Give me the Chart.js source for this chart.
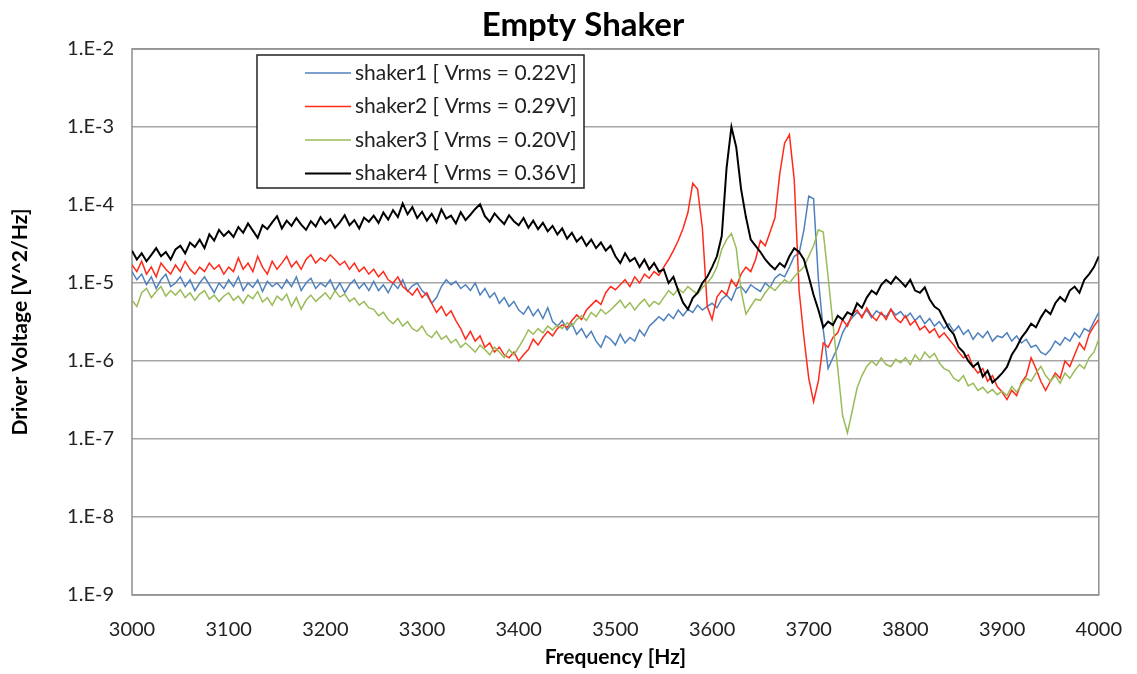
<!DOCTYPE html>
<html>
<head>
<meta charset="utf-8">
<title>Empty Shaker</title>
<script src="https://cdn.jsdelivr.net/npm/chart.js@4.4.1/dist/chart.umd.min.js"></script>
<style>
  html, body { margin: 0; padding: 0; background: #fff; }
  #psd { display: block; }
</style>
</head>
<body>
<canvas id="psd" width="1137" height="674"></canvas>
<script>
// ─── Data: driver voltage PSD, 3000–4000 Hz, one sample every 5 Hz ──────
const START_HZ = 3000;
const STEP_HZ  = 5;
const X_TICKS  = [3000, 3100, 3200, 3300, 3400, 3500, 3600, 3700, 3800, 3900, 4000];
const Y_TICKS  = [1e-9, 1e-8, 1e-7, 1e-6, 1e-5, 1e-4, 1e-3, 1e-2];

const SERIES_NAMES = [
  'shaker1 [ Vrms = 0.22V]',
  'shaker2 [ Vrms = 0.29V]',
  'shaker3 [ Vrms = 0.20V]',
  'shaker4 [ Vrms = 0.36V]'
];

const SHAKER1 = [
  1.4e-5, 1.1e-5, 1.3e-5, 9.5e-6, 1.2e-5, 8.5e-6, 1.1e-5, 1.3e-5, 9.0e-6, 1.0e-5,
  1.2e-5, 9.0e-6, 1.1e-5, 8.0e-6, 1.0e-5, 1.2e-5, 9.5e-6, 7.5e-6, 1.0e-5, 8.5e-6,
  1.1e-5, 9.0e-6, 1.2e-5, 8.0e-6, 1.0e-5, 8.8e-6, 1.1e-5, 7.8e-6, 1.05e-5, 9.0e-6,
  1.0e-5, 8.5e-6, 1.1e-5, 9.0e-6, 1.2e-5, 8.0e-6, 1.0e-5, 1.15e-5, 8.5e-6, 1.0e-5,
  9.0e-6, 1.1e-5, 8.0e-6, 1.0e-5, 7.5e-6, 9.5e-6, 1.1e-5, 8.5e-6, 1.0e-5, 8.0e-6,
  1.05e-5, 8.0e-6, 9.5e-6, 7.5e-6, 1.0e-5, 8.5e-6, 1.1e-5, 7.8e-6, 9.2e-6, 1.0e-5,
  8.0e-6, 7.0e-6, 5.5e-6, 6.5e-6, 9.0e-6, 1.1e-5, 9.5e-6, 1.05e-5, 8.5e-6, 9.5e-6,
  8.0e-6, 1.0e-5, 7.0e-6, 8.5e-6, 6.5e-6, 7.5e-6, 5.5e-6, 6.5e-6, 5.0e-6, 5.8e-6,
  4.5e-6, 4.0e-6, 5.0e-6, 3.8e-6, 4.6e-6, 3.5e-6, 4.8e-6, 3.2e-6, 2.8e-6, 3.3e-6,
  2.5e-6, 3.0e-6, 2.2e-6, 2.6e-6, 2.0e-6, 2.4e-6, 1.8e-6, 1.5e-6, 2.1e-6, 1.9e-6,
  1.6e-6, 2.2e-6, 1.7e-6, 2.0e-6, 1.8e-6, 2.5e-6, 2.1e-6, 2.8e-6, 3.2e-6, 3.7e-6,
  3.3e-6, 4.0e-6, 3.5e-6, 4.5e-6, 3.8e-6, 4.6e-6, 4.2e-6, 5.2e-6, 4.5e-6, 5.0e-6,
  5.5e-6, 4.8e-6, 6.2e-6, 7.0e-6, 6.0e-6, 8.5e-6, 9.0e-6, 7.5e-6, 9.5e-6, 8.5e-6,
  7.8e-6, 1.0e-5, 8.8e-6, 1.15e-5, 1.3e-5, 1.2e-5, 1.6e-5, 2.2e-5, 2.4e-5, 4.8e-5,
  1.3e-4, 1.2e-4, 1.1e-5, 2.5e-6, 8.0e-7, 1.1e-6, 1.5e-6, 2.3e-6, 3.0e-6, 3.6e-6,
  4.2e-6, 3.8e-6, 4.5e-6, 3.6e-6, 4.4e-6, 4.0e-6, 3.7e-6, 4.6e-6, 3.9e-6, 4.3e-6,
  3.6e-6, 4.1e-6, 3.3e-6, 3.8e-6, 3.0e-6, 3.5e-6, 2.8e-6, 3.2e-6, 2.6e-6, 3.0e-6,
  2.4e-6, 2.8e-6, 2.2e-6, 2.5e-6, 1.9e-6, 2.3e-6, 2.0e-6, 2.4e-6, 1.8e-6, 2.1e-6,
  2.0e-6, 2.3e-6, 1.8e-6, 2.1e-6, 1.7e-6, 1.9e-6, 1.5e-6, 1.6e-6, 1.3e-6, 1.2e-6,
  1.4e-6, 1.8e-6, 1.6e-6, 2.0e-6, 1.8e-6, 2.3e-6, 2.0e-6, 2.6e-6, 2.4e-6, 3.2e-6,
  4.2e-6
];

const SHAKER2 = [
  1.7e-5, 1.4e-5, 1.9e-5, 1.3e-5, 1.6e-5, 1.2e-5, 1.8e-5, 1.5e-5, 1.3e-5, 1.7e-5,
  1.4e-5, 1.9e-5, 1.5e-5, 1.3e-5, 1.6e-5, 1.4e-5, 1.8e-5, 1.5e-5, 1.7e-5, 1.3e-5,
  1.6e-5, 1.4e-5, 2.1e-5, 1.5e-5, 1.8e-5, 1.4e-5, 2.2e-5, 1.6e-5, 1.3e-5, 1.9e-5,
  1.5e-5, 1.8e-5, 2.2e-5, 1.6e-5, 1.9e-5, 1.5e-5, 2.0e-5, 2.3e-5, 1.8e-5, 2.1e-5,
  1.9e-5, 2.3e-5, 2.0e-5, 1.7e-5, 1.9e-5, 1.5e-5, 1.8e-5, 1.4e-5, 1.6e-5, 1.3e-5,
  1.5e-5, 1.2e-5, 1.4e-5, 1.1e-5, 1.0e-5, 1.2e-5, 9.0e-6, 8.0e-6, 7.0e-6, 8.5e-6,
  6.5e-6, 7.5e-6, 5.5e-6, 4.2e-6, 5.0e-6, 3.8e-6, 4.4e-6, 3.3e-6, 2.6e-6, 1.9e-6,
  2.4e-6, 1.8e-6, 2.1e-6, 1.5e-6, 1.7e-6, 1.3e-6, 1.5e-6, 1.2e-6, 1.1e-6, 1.3e-6,
  1.0e-6, 1.2e-6, 1.4e-6, 1.9e-6, 1.6e-6, 2.0e-6, 2.4e-6, 2.1e-6, 2.6e-6, 2.9e-6,
  2.7e-6, 3.3e-6, 3.9e-6, 3.4e-6, 4.5e-6, 5.2e-6, 6.0e-6, 5.3e-6, 7.5e-6, 9.0e-6,
  8.2e-6, 9.5e-6, 1.1e-5, 9.0e-6, 1.2e-5, 1.0e-5, 1.3e-5, 1.15e-5, 1.4e-5, 1.25e-5,
  1.6e-5, 2.0e-5, 2.6e-5, 3.5e-5, 5.0e-5, 8.0e-5, 1.9e-4, 1.6e-4, 5.0e-5, 5.0e-6,
  3.4e-6, 6.6e-6, 8.0e-6, 7.0e-6, 1.1e-5, 9.0e-6, 1.3e-5, 1.6e-5, 1.4e-5, 2.0e-5,
  3.5e-5, 3.0e-5, 4.5e-5, 6.8e-5, 2.5e-4, 6.2e-4, 8.0e-4, 2.1e-4, 8.0e-6, 2.0e-6,
  6.0e-7, 3.0e-7, 5.6e-7, 1.7e-6, 1.5e-6, 2.0e-6, 2.3e-6, 3.4e-6, 2.8e-6, 4.0e-6,
  4.5e-6, 3.6e-6, 4.8e-6, 3.8e-6, 3.3e-6, 4.2e-6, 3.4e-6, 4.6e-6, 3.5e-6, 3.1e-6,
  3.8e-6, 2.9e-6, 3.3e-6, 2.5e-6, 2.8e-6, 2.3e-6, 2.6e-6, 2.0e-6, 2.3e-6, 1.9e-6,
  1.6e-6, 1.3e-6, 1.1e-6, 1.2e-6, 8.5e-7, 7.0e-7, 8.0e-7, 5.5e-7, 6.5e-7, 4.7e-7,
  4.0e-7, 3.2e-7, 4.2e-7, 3.6e-7, 5.3e-7, 6.5e-7, 1.1e-6, 8.0e-7, 5.5e-7, 4.2e-7,
  5.5e-7, 7.0e-7, 6.0e-7, 1.0e-6, 8.5e-7, 1.2e-6, 1.7e-6, 1.4e-6, 2.2e-6, 2.8e-6,
  3.4e-6
];

const SHAKER3 = [
  6.0e-6, 5.0e-6, 7.5e-6, 8.5e-6, 6.5e-6, 7.8e-6, 9.0e-6, 6.8e-6, 8.0e-6, 7.0e-6,
  8.2e-6, 6.5e-6, 7.5e-6, 6.0e-6, 7.2e-6, 8.0e-6, 6.2e-6, 7.0e-6, 5.8e-6, 6.8e-6,
  7.5e-6, 6.0e-6, 6.8e-6, 5.5e-6, 7.0e-6, 6.3e-6, 7.8e-6, 5.7e-6, 6.5e-6, 5.2e-6,
  6.8e-6, 6.0e-6, 7.2e-6, 5.0e-6, 6.5e-6, 4.6e-6, 6.0e-6, 7.0e-6, 5.8e-6, 6.6e-6,
  7.5e-6, 6.2e-6, 8.0e-6, 6.6e-6, 7.2e-6, 5.8e-6, 6.4e-6, 5.2e-6, 5.8e-6, 4.8e-6,
  4.6e-6, 3.8e-6, 4.2e-6, 3.4e-6, 3.0e-6, 3.5e-6, 2.8e-6, 3.2e-6, 2.6e-6, 2.4e-6,
  2.8e-6, 2.2e-6, 2.0e-6, 2.4e-6, 1.9e-6, 2.1e-6, 1.7e-6, 1.9e-6, 1.5e-6, 1.7e-6,
  1.5e-6, 1.3e-6, 1.6e-6, 1.4e-6, 1.2e-6, 1.5e-6, 1.3e-6, 1.1e-6, 1.4e-6, 1.2e-6,
  1.5e-6, 1.9e-6, 2.5e-6, 2.2e-6, 2.6e-6, 2.3e-6, 2.8e-6, 2.5e-6, 2.9e-6, 2.6e-6,
  3.1e-6, 2.8e-6, 3.4e-6, 3.8e-6, 3.3e-6, 4.2e-6, 3.7e-6, 4.6e-6, 4.0e-6, 4.5e-6,
  5.2e-6, 6.0e-6, 4.8e-6, 5.6e-6, 4.5e-6, 5.4e-6, 6.2e-6, 5.0e-6, 5.8e-6, 5.3e-6,
  6.5e-6, 8.0e-6, 7.0e-6, 8.5e-6, 7.5e-6, 9.0e-6, 8.0e-6, 7.2e-6, 8.8e-6, 1.0e-5,
  1.2e-5, 1.6e-5, 2.7e-5, 3.6e-5, 4.3e-5, 2.8e-5, 8.0e-6, 4.0e-6, 5.0e-6, 6.2e-6,
  6.0e-6, 7.5e-6, 9.0e-6, 8.0e-6, 9.5e-6, 1.1e-5, 1.0e-5, 1.2e-5, 1.4e-5, 1.6e-5,
  2.2e-5, 3.0e-5, 4.8e-5, 4.5e-5, 1.2e-5, 3.0e-6, 8.0e-7, 2.0e-7, 1.2e-7, 2.3e-7,
  4.5e-7, 6.5e-7, 8.5e-7, 1.0e-6, 8.8e-7, 1.1e-6, 9.0e-7, 8.5e-7, 1.05e-6, 9.5e-7,
  1.1e-6, 9.0e-7, 1.2e-6, 1.0e-6, 1.3e-6, 1.1e-6, 1.25e-6, 9.5e-7, 8.0e-7, 7.5e-7,
  6.0e-7, 5.5e-7, 6.5e-7, 4.8e-7, 5.2e-7, 4.2e-7, 4.6e-7, 3.9e-7, 4.3e-7, 3.7e-7,
  4.1e-7, 3.6e-7, 4.7e-7, 4.0e-7, 5.0e-7, 6.0e-7, 5.5e-7, 7.0e-7, 8.5e-7, 6.5e-7,
  5.5e-7, 6.5e-7, 5.2e-7, 7.0e-7, 6.0e-7, 7.5e-7, 9.0e-7, 8.0e-7, 1.1e-6, 1.3e-6,
  1.9e-6
];

const SHAKER4 = [
  2.6e-5, 2.0e-5, 2.4e-5, 1.9e-5, 2.3e-5, 2.8e-5, 2.2e-5, 2.5e-5, 2.0e-5, 2.7e-5,
  3.0e-5, 2.4e-5, 3.3e-5, 2.9e-5, 3.6e-5, 2.8e-5, 4.2e-5, 3.5e-5, 4.8e-5, 4.0e-5,
  4.6e-5, 3.9e-5, 5.2e-5, 4.4e-5, 5.8e-5, 4.7e-5, 3.8e-5, 5.5e-5, 4.9e-5, 6.0e-5,
  7.2e-5, 5.0e-5, 6.3e-5, 5.4e-5, 6.8e-5, 5.6e-5, 4.8e-5, 6.2e-5, 5.3e-5, 7.0e-5,
  5.7e-5, 6.6e-5, 5.1e-5, 6.0e-5, 7.4e-5, 5.5e-5, 6.4e-5, 5.0e-5, 6.9e-5, 6.1e-5,
  7.3e-5, 5.9e-5, 8.0e-5, 6.5e-5, 8.6e-5, 7.0e-5, 1.05e-4, 7.6e-5, 9.4e-5, 6.8e-5,
  8.2e-5, 6.3e-5, 7.7e-5, 6.0e-5, 8.8e-5, 6.7e-5, 7.3e-5, 5.8e-5, 8.1e-5, 6.4e-5,
  7.5e-5, 8.9e-5, 1.02e-4, 7.2e-5, 6.1e-5, 7.8e-5, 6.6e-5, 5.7e-5, 7.4e-5, 6.2e-5,
  5.5e-5, 6.8e-5, 5.1e-5, 6.3e-5, 4.9e-5, 5.9e-5, 4.6e-5, 5.4e-5, 4.2e-5, 5.0e-5,
  3.7e-5, 4.4e-5, 3.4e-5, 3.9e-5, 3.0e-5, 3.6e-5, 2.8e-5, 3.3e-5, 2.6e-5, 3.0e-5,
  2.2e-5, 1.8e-5, 2.4e-5, 1.9e-5, 2.1e-5, 1.6e-5, 2.0e-5, 1.5e-5, 1.8e-5, 1.4e-5,
  1.5e-5, 1.0e-5, 1.2e-5, 8.0e-6, 5.6e-6, 4.6e-6, 6.4e-6, 7.5e-6, 1.0e-5, 1.2e-5,
  1.6e-5, 2.2e-5, 4.0e-5, 3.0e-4, 1.0e-3, 5.5e-4, 1.6e-4, 7.0e-5, 3.6e-5, 3.0e-5,
  2.5e-5, 2.0e-5, 1.7e-5, 1.5e-5, 1.8e-5, 1.6e-5, 2.2e-5, 2.8e-5, 2.5e-5, 2.0e-5,
  1.2e-5, 7.0e-6, 4.5e-6, 2.7e-6, 3.2e-6, 2.9e-6, 3.8e-6, 3.4e-6, 4.2e-6, 3.9e-6,
  5.5e-6, 4.8e-6, 6.5e-6, 8.0e-6, 7.2e-6, 9.5e-6, 1.1e-5, 9.8e-6, 1.2e-5, 1.05e-5,
  9.0e-6, 1.1e-5, 8.0e-6, 7.5e-6, 8.8e-6, 6.2e-6, 5.0e-6, 4.5e-6, 3.4e-6, 2.6e-6,
  2.2e-6, 1.5e-6, 1.3e-6, 1.0e-6, 8.4e-7, 9.5e-7, 6.3e-7, 7.5e-7, 5.3e-7, 6.0e-7,
  7.0e-7, 8.4e-7, 1.2e-6, 1.5e-6, 2.0e-6, 2.4e-6, 3.0e-6, 2.7e-6, 3.6e-6, 4.5e-6,
  4.0e-6, 5.5e-6, 6.6e-6, 5.8e-6, 8.0e-6, 9.0e-6, 7.5e-6, 1.1e-5, 1.3e-5, 1.6e-5,
  2.2e-5
];

const COLORS = ['#4f81bd', '#ff2a1a', '#9bbb59', '#000000'];
const FONT   = 'Lato, "Liberation Sans", sans-serif';

function toPoints(values) {
  return values.map((v, i) => ({ x: START_HZ + i * STEP_HZ, y: v }));
}

// ─── Chart heading, drawn a little right of the canvas centre ──────
const heading = {
  id: 'heading',
  afterDraw(chart) {
    const { ctx } = chart;
    ctx.save();
    ctx.font = 'bold 33px ' + FONT;
    ctx.fillStyle = '#000';
    ctx.textAlign = 'center';
    ctx.textBaseline = 'middle';
    ctx.fillText('Empty Shaker', 583, 25);
    ctx.restore();
  }
};

// ─── Plot frame (box round the plot area) ─────────────────────────
const plotFrame = {
  id: 'plotFrame',
  beforeDatasetsDraw(chart) {
    const { ctx, chartArea: a } = chart;
    ctx.save();
    ctx.strokeStyle = '#8f8f8f';
    ctx.lineWidth = 1.5;
    ctx.strokeRect(a.left, a.top, a.right - a.left, a.bottom - a.top);
    ctx.restore();
  }
};

// ─── Legend box inside the plot ───────────────────────────────────
const insetLegend = {
  id: 'insetLegend',
  afterDatasetsDraw(chart) {
    const { ctx, chartArea: a } = chart;
    const left = a.left + 125, top = a.top + 6, w = 327, h = 133;
    ctx.save();
    ctx.fillStyle = '#fff';
    ctx.fillRect(left, top, w, h);
    ctx.strokeStyle = '#222';
    ctx.lineWidth = 1.5;
    ctx.strokeRect(left, top, w, h);
    ctx.font = '21px ' + FONT;
    ctx.textBaseline = 'middle';
    chart.data.datasets.forEach((ds, i) => {
      const y = top + 18 + i * 33.5;
      ctx.strokeStyle = ds.borderColor;
      ctx.lineWidth = i === 3 ? 2 : 1.5;
      ctx.beginPath();
      ctx.moveTo(left + 48, y);
      ctx.lineTo(left + 94, y);
      ctx.stroke();
      ctx.fillStyle = '#222';
      ctx.fillText(ds.label, left + 98, y);
    });
    ctx.restore();
  }
};

new Chart(document.getElementById('psd'), {
  type: 'line',
  data: {
    datasets: [SHAKER1, SHAKER2, SHAKER3, SHAKER4].map((vals, i) => ({
      label: SERIES_NAMES[i],
      data: toPoints(vals),
      borderColor: COLORS[i],
      borderWidth: i === 3 ? 2 : 1.5,
      pointRadius: 0,
      tension: 0,
      order: 3 - i
    }))
  },
  options: {
    responsive: false,
    animation: false,
    layout: { padding: { left: 4, right: 32, top: 49, bottom: 4 } },
    plugins: {
      legend: { display: false },
      tooltip: { enabled: false },
      title: { display: false }
    },
    scales: {
      x: {
        type: 'linear',
        min: 3000,
        max: 4000,
        afterBuildTicks: s => { s.ticks = X_TICKS.map(v => ({ value: v })); },
        afterFit: s => { s.height = 75; },
        ticks: {
          color: '#222',
          font: { family: FONT, size: 20 },
          padding: 15,
          maxRotation: 0,
          callback: v => String(v)
        },
        grid: { display: false },
        border: { display: false },
        title: {
          display: true,
          text: 'Frequency [Hz]',
          color: '#000',
          font: { family: FONT, size: 21, weight: 'bold' },
          padding: { top: 0, bottom: 0 }
        }
      },
      y: {
        type: 'logarithmic',
        min: 1e-9,
        max: 1e-2,
        afterBuildTicks: s => { s.ticks = Y_TICKS.map(v => ({ value: v })); },
        afterFit: s => { s.width = 128; },
        ticks: {
          color: '#222',
          font: { family: FONT, size: 20 },
          padding: 18,
          callback: v => '1.E' + Math.round(Math.log10(v))
        },
        grid: { color: '#a6a6a6', lineWidth: 1.5, drawTicks: false },
        border: { display: false },
        title: {
          display: true,
          text: 'Driver Voltage [V^2/Hz]',
          color: '#000',
          font: { family: FONT, size: 21, weight: 'bold' },
          padding: { top: 4, bottom: 4 }
        }
      }
    }
  },
  plugins: [plotFrame, insetLegend, heading]
});
</script>
</body>
</html>
